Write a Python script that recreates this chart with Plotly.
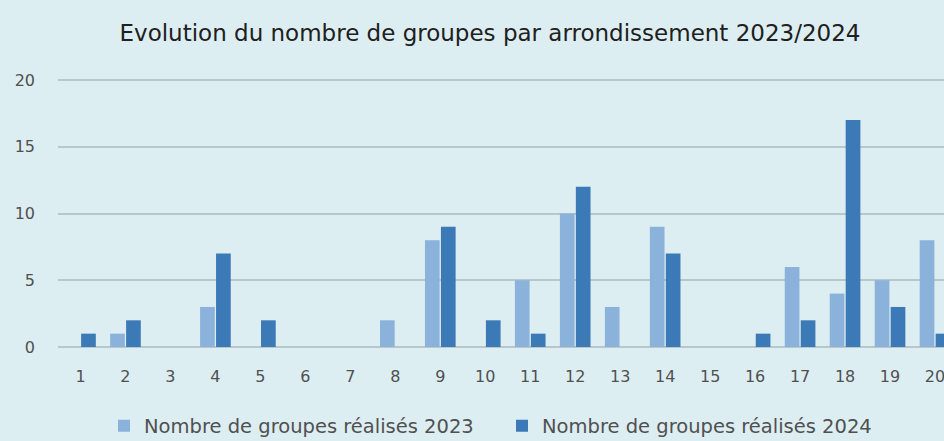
import plotly.graph_objects as go

arrondissements = [str(i) for i in range(1, 21)]
groupes_2023 = [0, 1, 0, 3, 0, 0, 0, 2, 8, 0, 5, 10, 3, 9, 0, 0, 6, 4, 5, 8]
groupes_2024 = [1, 2, 0, 7, 2, 0, 0, 0, 9, 2, 1, 12, 0, 7, 0, 1, 2, 17, 3, 1]

_BG = "#DDEEF2"
_LIGHT = "#8AB2DA"
_DARK = "#3B79B7"
_GRID = "#B9C6CA"
_TXT = "#404040"

fig = go.Figure()
fig.add_trace(go.Bar(x=arrondissements, y=groupes_2023, name="Nombre de groupes réalisés 2023",
                     marker=dict(color=_LIGHT, line=dict(width=0))))
fig.add_trace(go.Bar(x=arrondissements, y=groupes_2024, name="Nombre de groupes réalisés 2024",
                     marker=dict(color=_DARK, line=dict(width=0))))

fig.update_layout(
    width=944, height=441,
    paper_bgcolor=_BG, plot_bgcolor=_BG,
    font=dict(family="'DejaVu Sans', sans-serif", size=16, color=_TXT),
    title=dict(text="Evolution du nombre de groupes par arrondissement 2023/2024",
               x=490 / 944, xref="container", xanchor="center",
               y=1 - 33 / 441, yref="container", yanchor="middle",
               font=dict(size=23, color="#202020")),
    barmode="group", bargap=0.29, bargroupgap=0.08,
    margin=dict(l=58, r=0, t=76, b=94),
    showlegend=True,
    legend=dict(orientation="h", xref="container", yref="container",
                x=104 / 944, y=15 / 441, xanchor="left", yanchor="middle",
                entrywidth=353, entrywidthmode="pixels", itemwidth=30,
                font=dict(size=19.5, color="#505050"), bgcolor="rgba(0,0,0,0)"),
)

fig.update_xaxes(range=[-0.5, 19.2], showgrid=False, zeroline=False, showline=False,
                 ticks="", ticklabelstandoff=18, tickfont=dict(size=16, color="#505050"))
fig.update_yaxes(range=[0, 20.3], tickvals=[0, 5, 10, 15, 20], gridcolor=_GRID, gridwidth=1.5,
                 zeroline=True, zerolinecolor=_GRID, zerolinewidth=1.5, showline=False,
                 ticks="", ticklabelstandoff=22, tickfont=dict(size=16, color="#505050"))

# drop the browser's default page margin so the chart fills the window
fig.write_html("out.html", config={"displayModeBar": False},
               post_script="document.body.style.margin='0';")
